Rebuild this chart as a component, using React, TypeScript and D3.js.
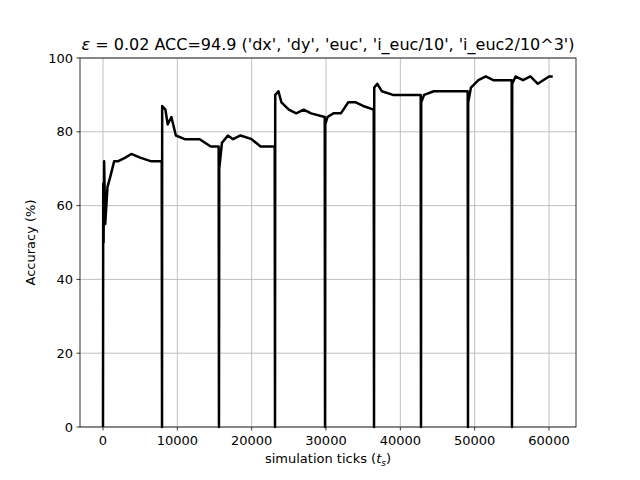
import * as d3 from "d3"

const xTicks = [0, 10000, 20000, 30000, 40000, 50000, 60000]
const yTicks = [0, 20, 40, 60, 80, 100]

// one array per task segment: [tick, accuracy]
const seg1 = [[0, 0], [30, 66], [80, 50], [150, 72], [300, 55], [600, 65], [1000, 68], [1500, 72], [2000, 72], [3000, 73], [3800, 74], [5000, 73], [6500, 72], [7900, 72]]
const seg2 = [[7940, 0], [7960, 87], [8400, 86], [8700, 82], [9200, 84], [9800, 79], [11000, 78], [13000, 78], [14500, 76], [15560, 76]]
const seg3 = [[15600, 0], [15640, 70], [16000, 77], [16800, 79], [17500, 78], [18500, 79], [20000, 78], [21200, 76], [22000, 76], [23100, 76]]
const seg4 = [[23140, 0], [23170, 90], [23600, 91], [24000, 88], [25000, 86], [26000, 85], [27000, 86], [28000, 85], [29830, 84]]
const seg5 = [[29870, 0], [29900, 82], [30200, 84], [31000, 85], [32000, 85], [33000, 88], [34000, 88], [35000, 87], [36420, 86]]
const seg6 = [[36460, 0], [36490, 92], [36900, 93], [37500, 91], [39000, 90], [40500, 90], [42740, 90]]
const seg7 = [[42780, 0], [42810, 88], [43200, 90], [44500, 91], [46000, 91], [48000, 91], [49060, 91]]
const seg8 = [[49100, 0], [49130, 88], [49500, 92], [50500, 94], [51500, 95], [52500, 94], [54980, 94]]
const seg9 = [[55020, 0], [55050, 93], [55500, 95], [56500, 94], [57500, 95], [58500, 93], [60000, 95], [60500, 95]]
const segments = [seg1, seg2, seg3, seg4, seg5, seg6, seg7, seg8, seg9]

export default function App() {
  const left = 80, right = 576, top = 58, bottom = 427
  const x = d3.scaleLinear().domain([-3094, 63632]).range([left, right])
  const y = d3.scaleLinear().domain([0, 100]).range([bottom, top])
  const line = d3.line<number[]>().x((d) => x(d[0])).y((d) => y(d[1]))
  const points = segments.flat()

  return (
    <svg width={640} height={480} style={{ position: "absolute", left: 0, top: 0, fontFamily: "DejaVu Sans", background: "white" }}>
      {xTicks.map((t) => (
        <g key={"x" + t}>
          <line x1={x(t)} x2={x(t)} y1={top} y2={bottom} stroke="#b0b0b0" strokeWidth={0.8} />
          <line x1={x(t)} x2={x(t)} y1={bottom} y2={bottom + 3.5} stroke="black" strokeWidth={0.8} />
          <text x={x(t)} y={bottom + 18} fontSize={13} textAnchor="middle">{t}</text>
        </g>
      ))}
      {yTicks.map((t) => (
        <g key={"y" + t}>
          <line x1={left} x2={right} y1={y(t)} y2={y(t)} stroke="#b0b0b0" strokeWidth={0.8} />
          <line x1={left - 3.5} x2={left} y1={y(t)} y2={y(t)} stroke="black" strokeWidth={0.8} />
          <text x={left - 7} y={y(t) + 4.5} fontSize={13} textAnchor="end">{t}</text>
        </g>
      ))}
      <path d={line(points) ?? ""} fill="none" stroke="black" strokeWidth={2.5} strokeLinejoin="round" />
      <rect x={left} y={top} width={right - left} height={bottom - top} fill="none" stroke="black" strokeWidth={0.8} />
      <text x={(left + right) / 2} y={bottom + 36} fontSize={13} textAnchor="middle">
        simulation ticks (<tspan fontStyle="italic">t</tspan><tspan fontSize={9} fontStyle="italic" dy={3}>s</tspan><tspan dy={-3}>)</tspan>
      </text>
      <text transform={`translate(35,${(top + bottom) / 2}) rotate(-90)`} fontSize={13} textAnchor="middle">Accuracy (%)</text>
      <text x={(left + right) / 2} y={top - 8} fontSize={16} textAnchor="middle">
        <tspan fontStyle="italic">ε</tspan> = 0.02 ACC=94.9 ('dx', 'dy', 'euc', 'i_euc/10', 'i_euc2/10^3')
      </text>
    </svg>
  )
}
